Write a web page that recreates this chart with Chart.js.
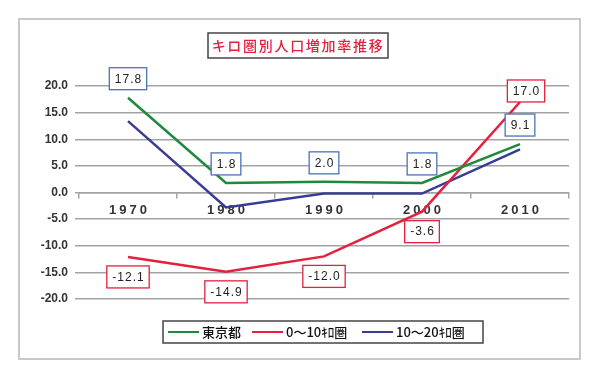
<!DOCTYPE html>
<html>
<head>
<meta charset="utf-8">
<script src="https://cdn.jsdelivr.net/npm/chart.js@4.4.0/dist/chart.umd.min.js"></script>
<style>
  body { margin: 0; background: #fff; }
  #wrap { width: 600px; height: 381px; }
</style>
</head>
<body>
<div id="wrap"><canvas id="kiroChart" width="600" height="381"></canvas></div>
<script>
// Daten
const years = ['1970', '1980', '1990', '2000', '2010'];
const tokyo = [17.8, 1.8, 2.0, 1.8, 9.1];
const ken0to10 = [-12.1, -14.9, -12.0, -3.6, 17.0];
const ken10to20 = [13.4, -2.8, -0.2, -0.2, 8.1];
const yTicks = [20, 15, 10, 5, 0, -5, -10, -15, -20];
const seriesNames = ['東京都', '0～10ｷﾛ圏', '10～20ｷﾛ圏'];
const chartTitle = 'キロ圏別人口増加率推移';

const GREEN = '#1f8a3c';
const RED = '#e3213d';
const NAVY = '#383c92';
const BOX_BLUE = '#4a72b8';
const GRID = '#a3a3a3';
const JP = "'Noto Sans CJK JP', sans-serif";
const NUM = "'Liberation Sans', Arial, sans-serif";

let kiroChart = document.querySelector('#kiroChart');

// Rahmen, Titel, Legende, Achsenbeschriftung, Wertkästchen
const deko = {
  id: 'deko',
  beforeDraw(chart) {
    const ctx = chart.ctx;
    ctx.save();
    // äusserer Rahmen
    ctx.strokeStyle = '#c9c9c9';
    ctx.lineWidth = 2;
    ctx.strokeRect(19, 19, 561, 340);

    // Titel
    ctx.font = '500 14px ' + JP;
    ctx.letterSpacing = '1.7px';
    const tw = ctx.measureText(chartTitle).width;
    ctx.strokeStyle = '#444';
    ctx.lineWidth = 1.5;
    ctx.strokeRect(208, 33, 180, 25);
    ctx.fillStyle = RED;
    ctx.textBaseline = 'middle';
    ctx.textAlign = 'left';
    ctx.fillText(chartTitle, 298 - tw / 2, 46);

    // Legende
    ctx.letterSpacing = '0px';
    ctx.strokeStyle = '#444';
    ctx.lineWidth = 1.5;
    ctx.strokeRect(163, 321, 320, 22);
    ctx.font = '500 13px ' + JP;
    ctx.fillStyle = '#111';
    const legendX = [168, 252, 362];
    chart.data.datasets.forEach((ds, i) => {
      const x = legendX[i];
      ctx.strokeStyle = ds.borderColor;
      ctx.lineWidth = 2;
      ctx.beginPath();
      ctx.moveTo(x, 332);
      ctx.lineTo(x + 31, 332);
      ctx.stroke();
      ctx.fillText(ds.label, x + 34, 332.5);
    });
    ctx.restore();
  },
  beforeDatasetsDraw(chart) {
    // x-Beschriftung unter der Nulllinie
    const ctx = chart.ctx;
    const xs = chart.scales.x;
    const ys = chart.scales.y;
    ctx.save();
    ctx.font = 'bold 13px ' + NUM;
    ctx.letterSpacing = '3px';
    ctx.fillStyle = '#333';
    ctx.textBaseline = 'middle';
    ctx.textAlign = 'left';
    years.forEach((yr, i) => {
      const w = ctx.measureText(yr).width - 3;
      ctx.fillText(yr, xs.getPixelForValue(i) - w / 2, ys.getPixelForValue(0) + 18);
    });
    ctx.restore();
  },
  afterDatasetsDraw(chart) {
    const ctx = chart.ctx;
    ctx.save();
    ctx.font = '12px ' + NUM;
    ctx.letterSpacing = '1px';
    ctx.textBaseline = 'middle';
    ctx.textAlign = 'left';
    const withBoxes = [
      { idx: 0, color: BOX_BLUE, dy: -19 },
      { idx: 1, color: RED, dy: 20 }
    ];
    withBoxes.forEach(b => {
      const meta = chart.getDatasetMeta(b.idx);
      const vals = chart.data.datasets[b.idx].data;
      meta.data.forEach((pt, j) => {
        const txt = vals[j].toFixed(1);
        const w = ctx.measureText(txt).width;
        let cx = pt.x;
        let cy = pt.y + b.dy;
        // letzter roter Wert sitzt oben rechts vom Punkt
        if (b.idx === 1 && j === vals.length - 1) {
          cx = pt.x + 6;
          cy = pt.y - 11;
        }
        const bw = w + 10;
        const bh = 22;
        ctx.fillStyle = '#fff';
        ctx.fillRect(cx - bw / 2, cy - bh / 2, bw, bh);
        ctx.strokeStyle = b.color;
        ctx.lineWidth = 1.3;
        ctx.strokeRect(cx - bw / 2, cy - bh / 2, bw, bh);
        ctx.fillStyle = '#222';
        ctx.fillText(txt, cx - (w - 1) / 2, cy + 0.5);
      });
    });
    ctx.restore();
  }
};

const data = {
  labels: years,
  datasets: [
    { label: seriesNames[0], data: tokyo, borderColor: GREEN },
    { label: seriesNames[1], data: ken0to10, borderColor: RED },
    { label: seriesNames[2], data: ken10to20, borderColor: NAVY }
  ].map(ds => Object.assign(ds, {
    borderWidth: 2.5,
    pointRadius: 0,
    fill: false,
    tension: 0
  }))
};

const config = {
  type: 'line',
  data: data,
  options: {
    responsive: false,
    animation: false,
    layout: {
      padding: { left: 20, right: 31, top: 86, bottom: 82 }
    },
    plugins: {
      legend: { display: false },
      title: { display: false },
      tooltip: { enabled: false }
    },
    scales: {
      x: {
        type: 'category',
        position: { y: 0 },
        offset: true,
        grid: {
          drawOnChartArea: false,
          tickLength: 5,
          color: GRID,
          lineWidth: 1.5,
          offset: true
        },
        border: { color: GRID, width: 1.5 },
        ticks: { display: false }
      },
      y: {
        min: -20,
        max: 20,
        afterBuildTicks: scale => {
          scale.ticks = yTicks.map(v => ({ value: v }));
        },
        afterFit: scale => {
          scale.width = 59;
        },
        grid: { color: GRID, lineWidth: 1.5, tickLength: 4 },
        border: { display: false },
        ticks: {
          padding: 7,
          color: '#333',
          font: { family: NUM, size: 12, weight: 'bold' },
          callback: v => v.toFixed(1)
        }
      }
    }
  },
  plugins: [deko]
};

const chart = new Chart(kiroChart, config);
</script>
</body>
</html>
